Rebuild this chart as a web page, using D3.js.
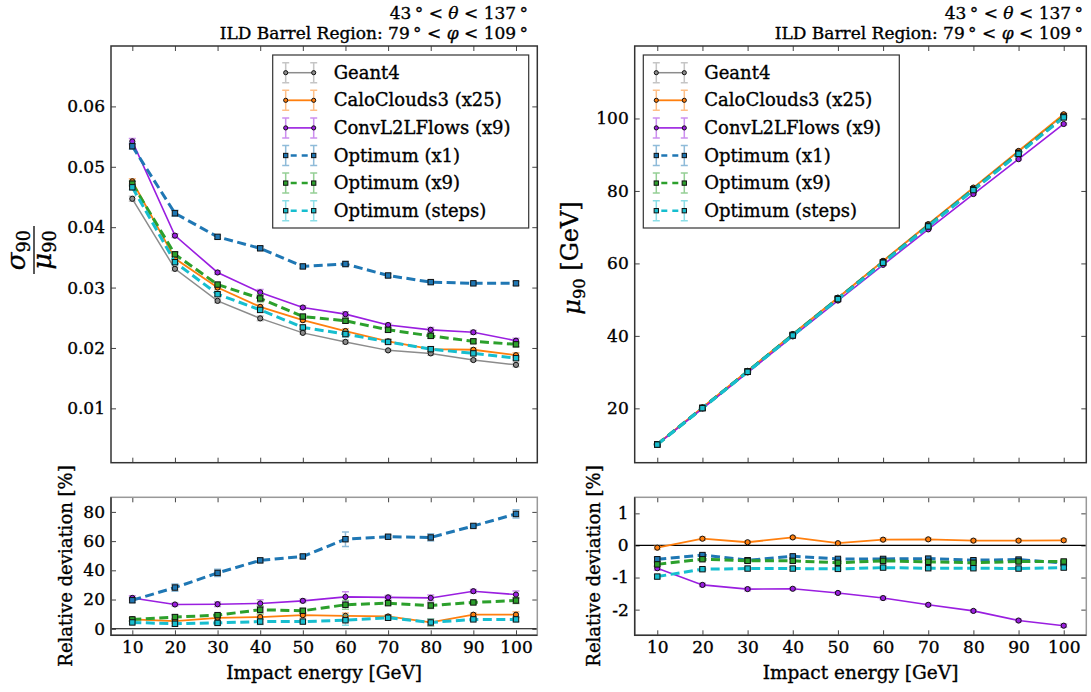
<!DOCTYPE html>
<meta charset="utf-8">
<html>
<head><title>energy resolution and linearity</title>
<script src="https://d3js.org/d3.v7.min.js"></script>
<style>
    body { margin: 0; background: #fff; }
    text { font-family: "DejaVu Serif", "Liberation Serif", serif; fill: #000; stroke: #000; stroke-width: 0.35px; }
    .tick line { stroke: #444; }
</style>
</head>
<body>
<div id="chartDiv"></div>
<script>

var SVGwidth = 1091, SVGheight = 692;

// impact energies [GeV]
var energies = [10, 20, 30, 40, 50, 60, 70, 80, 90, 100];
var seriesNames = ["Geant4", "CaloClouds3 (x25)", "ConvL2LFlows (x9)", "Optimum (x1)", "Optimum (x9)", "Optimum (steps)"];

// sigma90 / mu90
var resGeant4      = [0.0447, 0.0331, 0.0278, 0.0249, 0.0225, 0.0210, 0.0196, 0.0191, 0.0180, 0.0172];
var resCaloClouds  = [0.0476, 0.0348, 0.0300, 0.0268, 0.0246, 0.0228, 0.0211, 0.0198, 0.0197, 0.0188];
var resConv        = [0.0542, 0.0386, 0.0325, 0.0292, 0.0267, 0.0256, 0.0238, 0.0230, 0.0226, 0.0212];
var resOpt1        = [0.0534, 0.0423, 0.0384, 0.0365, 0.0335, 0.0339, 0.0320, 0.0309, 0.0307, 0.0307];
var resOpt9        = [0.0472, 0.0355, 0.0305, 0.0282, 0.0252, 0.0245, 0.0230, 0.0220, 0.0211, 0.0206];
var resOptSteps    = [0.0466, 0.0342, 0.0289, 0.0263, 0.0234, 0.0223, 0.0210, 0.0198, 0.0191, 0.0183];
var resErrGeant4     = [0.0004, 0.0003, 0.0003, 0.0004, 0.0002, 0.0003, 0.0002, 0.0003, 0.0002, 0.0003];
var resErrCaloClouds = [0.0004, 0.0005, 0.0003, 0.0004, 0.0003, 0.0004, 0.0003, 0.0004, 0.0003, 0.0004];
var resErrConv       = [0.0005, 0.0003, 0.0003, 0.0005, 0.0003, 0.0004, 0.0003, 0.0004, 0.0003, 0.0004];
var resErrOpt1       = [0.0005, 0.0005, 0.0003, 0.0003, 0.0003, 0.0004, 0.0003, 0.0003, 0.0002, 0.0003];
var resErrOpt9       = [0.0004, 0.0004, 0.0003, 0.0006, 0.0003, 0.0004, 0.0003, 0.0004, 0.0003, 0.0004];
var resErrOptSteps   = [0.0004, 0.0004, 0.0003, 0.0004, 0.0003, 0.0005, 0.0003, 0.0004, 0.0003, 0.0003];

// mu90 [GeV]
var meanGeant4     = [10.10, 20.20, 30.30, 40.40, 50.50, 60.60, 70.70, 80.80, 90.90, 101.00];
var meanCaloClouds = [10.09, 20.24, 30.33, 40.50, 50.54, 60.71, 70.83, 80.92, 91.04, 101.16];
var meanConv       = [10.03, 19.95, 29.89, 39.85, 49.75, 59.61, 69.39, 79.15, 88.77, 98.48];
var meanOpt1       = [10.06, 20.14, 30.16, 40.26, 50.29, 60.35, 70.41, 80.43, 90.50, 100.42];
var meanOpt9       = [10.04, 20.11, 30.15, 40.21, 50.23, 60.31, 70.34, 80.36, 90.45, 100.50];
var meanOptSteps   = [10.00, 20.05, 30.08, 40.11, 50.13, 60.18, 70.20, 80.23, 90.25, 100.30];
var meanErr        = [0.05, 0.08, 0.10, 0.12, 0.14, 0.16, 0.18, 0.20, 0.22, 0.25];

// relative deviation of sigma90/mu90 to Geant4 [%]
var devResCaloClouds = [6.4, 5.2, 7.5, 8.0, 9.3, 8.8, 8.4, 4.3, 9.6, 9.6];
var devResConv       = [21.1, 16.6, 16.8, 17.3, 19.1, 21.8, 21.5, 21.1, 25.7, 23.4];
var devResOpt1       = [19.5, 28.2, 38.2, 46.8, 49.5, 61.3, 63.0, 62.5, 70.4, 78.6];
var devResOpt9       = [6.4, 8.0, 9.3, 13.0, 12.3, 16.4, 17.5, 15.9, 18.0, 19.3];
var devResOptSteps   = [4.3, 3.4, 4.0, 4.9, 4.9, 5.8, 7.5, 4.3, 6.4, 6.4];
var devResErrCaloClouds = [1.0, 1.5, 1.2, 1.5, 1.2, 2.0, 1.2, 2.5, 1.2, 2.0];
var devResErrConv       = [1.5, 1.0, 1.5, 2.5, 1.2, 3.5, 1.2, 2.0, 1.2, 2.5];
var devResErrOpt1       = [1.5, 2.5, 2.5, 1.5, 1.2, 5.0, 1.2, 2.5, 1.2, 2.8];
var devResErrOpt9       = [1.2, 1.5, 1.2, 2.5, 1.5, 3.0, 1.2, 2.0, 1.2, 2.0];
var devResErrOptSteps   = [1.0, 1.5, 1.2, 2.0, 1.0, 3.5, 1.2, 2.5, 1.0, 1.5];

// relative deviation of mu90 to Geant4 [%]
var devMeanCaloClouds = [-0.07, 0.21, 0.10, 0.25, 0.07, 0.18, 0.19, 0.15, 0.15, 0.16];
var devMeanConv       = [-0.71, -1.23, -1.36, -1.35, -1.48, -1.64, -1.85, -2.04, -2.34, -2.50];
var devMeanOpt1       = [-0.43, -0.30, -0.46, -0.34, -0.42, -0.42, -0.41, -0.46, -0.44, -0.55];
var devMeanOpt9       = [-0.59, -0.43, -0.48, -0.48, -0.54, -0.48, -0.51, -0.54, -0.50, -0.50];
var devMeanOptSteps   = [-0.97, -0.74, -0.72, -0.72, -0.73, -0.69, -0.71, -0.71, -0.72, -0.69];
var devMeanErr        = [0.06, 0.05, 0.05, 0.04, 0.04, 0.05, 0.04, 0.04, 0.04, 0.05];

var resTicks = [0.01, 0.02, 0.03, 0.04, 0.05, 0.06];
var meanTicks = [20, 40, 60, 80, 100];
var devResTicks = [0, 20, 40, 60, 80];
var devMeanTicks = [-2, -1, 0, 1];

// styles, one per series
var seriesColors = ["#8c8c8c", "#ff7f0e", "#9a1ee0", "#1f77b4", "#2ca02c", "#17becf"];
var seriesDashed = [false, false, false, true, true, true];
var seriesWidth  = [1.5, 1.8, 1.6, 3, 3, 3];

var svg = d3.select("#chartDiv").append("svg")
        .attr("width", SVGwidth)
        .attr("height", SVGheight);

function fmt(d) { return String(d); }

function drawPanel(p) {
    var x = d3.scaleLinear().domain([5, 105]).range([p.left, p.right]);
    var y = d3.scaleLinear().domain(p.yDomain).range([p.bottom, p.top]);
    var g = svg.append("g");

    var ax = g.append("g").attr("transform", "translate(" + p.left + ",0)")
            .call(d3.axisLeft(y).tickValues(p.yTicks).tickSizeInner(-5).tickSizeOuter(0).tickPadding(6).tickFormat(fmt));
    ax.selectAll("text").style("font-size", "17px").attr("fill", "#000");
    g.append("g").attr("transform", "translate(" + p.right + ",0)")
            .call(d3.axisRight(y).tickValues(p.yTicks).tickSizeInner(-5).tickSizeOuter(0).tickFormat(""));
    var bx = g.append("g").attr("transform", "translate(0," + p.bottom + ")")
            .call(d3.axisBottom(x).tickValues(energies).tickSizeInner(-5).tickSizeOuter(0).tickPadding(6)
                .tickFormat(p.xLabels ? fmt : ""));
    bx.selectAll("text").style("font-size", "17px").attr("fill", "#000");
    g.append("g").attr("transform", "translate(0," + p.top + ")")
            .call(d3.axisTop(x).tickValues(energies).tickSizeInner(-5).tickSizeOuter(0).tickFormat(""));
    g.selectAll(".domain").remove();

    if (p.zeroLine) {
        g.append("line").attr("x1", p.left).attr("x2", p.right)
                .attr("y1", y(0)).attr("y2", y(0))
                .attr("stroke", "#000").attr("stroke-width", 1.2);
    }

    p.series.forEach(function(s) {
        var c = seriesColors[s.idx];
        var sg = g.append("g");
        // error bars
        s.values.forEach(function(v, i) {
            var xe = x(energies[i]), lo = y(v - s.errors[i]), hi = y(v + s.errors[i]);
            sg.append("path")
                    .attr("d", "M" + xe + "," + lo + "V" + hi + "M" + (xe - 3.5) + "," + lo + "h7M" + (xe - 3.5) + "," + hi + "h7")
                    .attr("stroke", c).attr("stroke-opacity", 0.5).attr("stroke-width", 1.5).attr("fill", "none");
        });
        sg.append("path")
                .datum(s.values)
                .attr("d", d3.line().x(function(d, i) { return x(energies[i]); }).y(function(d) { return y(d); }))
                .attr("fill", "none").attr("stroke", c)
                .attr("stroke-width", seriesWidth[s.idx])
                .attr("stroke-dasharray", seriesDashed[s.idx] ? "9,4.5" : null);
        drawMarkers(sg, s.idx, s.values.map(function(d, i) { return [x(energies[i]), y(d)]; }), 1);
    });

    g.append("rect")
            .attr("x", p.left).attr("y", p.top)
            .attr("width", p.right - p.left).attr("height", p.bottom - p.top)
            .attr("fill", "none").attr("stroke", p.frameColor).attr("stroke-width", 1.5);
    if (p.lowerFrame) {
        g.append("path")
                .attr("d", "M" + p.left + "," + p.top + "V" + p.bottom + "H" + p.right)
                .attr("fill", "none").attr("stroke", "#333").attr("stroke-width", 1.5);
    }
}

function drawMarkers(sg, idx, pts, k) {
    var c = seriesColors[idx];
    if (seriesDashed[idx]) {
        var h = 2.7 * k;
        sg.selectAll(null).data(pts).enter().append("rect")
                .attr("x", function(d) { return d[0] - h; }).attr("y", function(d) { return d[1] - h; })
                .attr("width", 2 * h).attr("height", 2 * h)
                .attr("fill", c).attr("stroke", "#111").attr("stroke-width", 1);
    } else {
        sg.selectAll(null).data(pts).enter().append("circle")
                .attr("cx", function(d) { return d[0]; }).attr("cy", function(d) { return d[1]; })
                .attr("r", 2.6 * k)
                .attr("fill", c).attr("stroke", "#111").attr("stroke-width", 1);
    }
}

function drawLegend(x0, y0) {
    var g = svg.append("g").attr("transform", "translate(" + x0 + "," + y0 + ")");
    g.append("rect").attr("width", 256).attr("height", 173)
            .attr("fill", "#fff").attr("stroke", "#333").attr("stroke-width", 1.2);
    seriesNames.forEach(function(name, i) {
        var yy = 17.7 + i * 27.6, c = seriesColors[i];
        [13, 41].forEach(function(xx) {
            g.append("path")
                    .attr("d", "M" + xx + "," + (yy - 10) + "V" + (yy + 10) + "M" + (xx - 3.5) + "," + (yy - 10) + "h7M" + (xx - 3.5) + "," + (yy + 10) + "h7")
                    .attr("stroke", c).attr("stroke-opacity", 0.5).attr("stroke-width", 1.5).attr("fill", "none");
        });
        g.append("line").attr("x1", 13).attr("x2", 41).attr("y1", yy).attr("y2", yy)
                .attr("stroke", c).attr("stroke-width", seriesDashed[i] ? 2.5 : seriesWidth[i])
                .attr("stroke-dasharray", seriesDashed[i] ? "6,5" : null)
                .attr("stroke-dashoffset", seriesDashed[i] ? -5 : null);
        drawMarkers(g, i, [[13, yy], [41, yy]], 0.8);
        g.append("text").attr("x", 61).attr("y", yy + 6).style("font-size", "18px").text(name);
    });
}

function drawTitle(xEnd) {
    var t1 = svg.append("text").attr("x", xEnd).attr("y", 19).attr("text-anchor", "end").style("font-size", "17px");
    t1.append("tspan").text("43\u2009° < ");
    t1.append("tspan").style("font-style", "italic").text("θ");
    t1.append("tspan").text(" < 137\u2009°");
    var t2 = svg.append("text").attr("x", xEnd).attr("y", 38.5).attr("text-anchor", "end").style("font-size", "17px");
    t2.append("tspan").text("ILD Barrel Region: 79\u2009° < ");
    t2.append("tspan").style("font-style", "italic").text("φ");
    t2.append("tspan").text(" < 109\u2009°");
}

function sub(t, main, subs, italic) {
    t.append("tspan").style("font-style", italic ? "italic" : null).text(main);
    t.append("tspan").attr("dy", "0.3em").style("font-size", "0.68em").text(subs);
}

// ---- panels ----
var L = {left: 111, right: 537.3}, R = {left: 634.7, right: 1086.3};
var topY = {top: 46, bottom: 462.7}, lowY = {top: 497.3, bottom: 635.3};

drawPanel({left: L.left, right: L.right, top: topY.top, bottom: topY.bottom,
    yDomain: [0.001, 0.07], yTicks: resTicks, xLabels: false, frameColor: "#333",
    series: [
        {idx: 0, values: resGeant4, errors: resErrGeant4},
        {idx: 1, values: resCaloClouds, errors: resErrCaloClouds},
        {idx: 2, values: resConv, errors: resErrConv},
        {idx: 3, values: resOpt1, errors: resErrOpt1},
        {idx: 4, values: resOpt9, errors: resErrOpt9},
        {idx: 5, values: resOptSteps, errors: resErrOptSteps}
    ]});

drawPanel({left: R.left, right: R.right, top: topY.top, bottom: topY.bottom,
    yDomain: [5, 120], yTicks: meanTicks, xLabels: false, frameColor: "#333",
    series: [
        {idx: 0, values: meanGeant4, errors: meanErr},
        {idx: 1, values: meanCaloClouds, errors: meanErr},
        {idx: 2, values: meanConv, errors: meanErr},
        {idx: 3, values: meanOpt1, errors: meanErr},
        {idx: 4, values: meanOpt9, errors: meanErr},
        {idx: 5, values: meanOptSteps, errors: meanErr}
    ]});

drawPanel({left: L.left, right: L.right, top: lowY.top, bottom: lowY.bottom,
    yDomain: [-4.5, 90], yTicks: devResTicks, xLabels: true, frameColor: "#999", lowerFrame: true, zeroLine: true,
    series: [
        {idx: 1, values: devResCaloClouds, errors: devResErrCaloClouds},
        {idx: 2, values: devResConv, errors: devResErrConv},
        {idx: 3, values: devResOpt1, errors: devResErrOpt1},
        {idx: 4, values: devResOpt9, errors: devResErrOpt9},
        {idx: 5, values: devResOptSteps, errors: devResErrOptSteps}
    ]});

drawPanel({left: R.left, right: R.right, top: lowY.top, bottom: lowY.bottom,
    yDomain: [-2.8, 1.5], yTicks: devMeanTicks, xLabels: true, frameColor: "#999", lowerFrame: true, zeroLine: true,
    series: [
        {idx: 1, values: devMeanCaloClouds, errors: devMeanErr},
        {idx: 2, values: devMeanConv, errors: devMeanErr},
        {idx: 3, values: devMeanOpt1, errors: devMeanErr},
        {idx: 4, values: devMeanOpt9, errors: devMeanErr},
        {idx: 5, values: devMeanOptSteps, errors: devMeanErr}
    ]});

drawLegend(272.7, 55);
drawLegend(643.3, 55);
drawTitle(528);
drawTitle(1083);

// ---- axis labels ----
[L, R].forEach(function(P) {
    svg.append("text")
            .attr("x", (P.left + P.right) / 2).attr("y", 679)
            .attr("text-anchor", "middle").style("font-size", "18.5px")
            .text("Impact energy [GeV]");
});
[[72, 566], [600, 566]].forEach(function(pos) {
    svg.append("text")
            .attr("transform", "translate(" + pos[0] + "," + pos[1] + ") rotate(-90)")
            .attr("text-anchor", "middle").style("font-size", "18px")
            .text("Relative deviation [%]");
});

// sigma90 / mu90 fraction
var frac = svg.append("g").attr("transform", "translate(34,250) rotate(-90)");
var num = frac.append("text").attr("x", 0).attr("y", -9).attr("text-anchor", "middle").style("font-size", "26px");
sub(num, "σ", "90", true);
frac.append("line").attr("x1", -24).attr("x2", 24).attr("y1", 0).attr("y2", 0)
        .attr("stroke", "#000").attr("stroke-width", 1.3);
var den = frac.append("text").attr("x", 0).attr("y", 17).attr("text-anchor", "middle").style("font-size", "26px");
sub(den, "μ", "90", true);

// mu90 [GeV]
var ml = svg.append("text")
        .attr("transform", "translate(580,258) rotate(-90)")
        .attr("text-anchor", "middle").style("font-size", "24px");
sub(ml, "μ", "90", true);
ml.append("tspan").attr("dy", "-0.3em").text(" [GeV]");

</script>
</body>
</html>
